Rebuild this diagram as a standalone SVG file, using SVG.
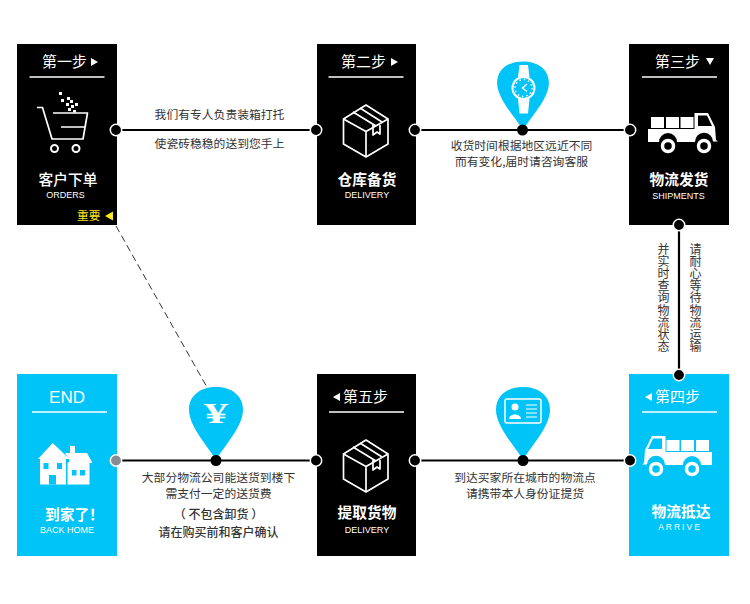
<svg xmlns="http://www.w3.org/2000/svg" width="750" height="604" viewBox="0 0 750 604">
<style>
text{font-family:"Noto Sans CJK SC","Liberation Sans",sans-serif;}
.step{font-size:15px;fill:#fff;}
.title{font-size:14.700px;fill:#fff;font-weight:700;text-anchor:middle;}
.en{font-family:"Liberation Sans",sans-serif;font-size:9px;fill:#fff;text-anchor:middle;}
.cap{font-size:11.800px;fill:#333;text-anchor:middle;}
.vert{font-size:12px;fill:#333;writing-mode:vertical-rl;text-orientation:upright;letter-spacing:.2px;}
.rule{stroke:#fff;stroke-width:1.500;fill:none;}
.ico{stroke:#fff;stroke-width:1.700;fill:none;stroke-linejoin:round;}
.blk{fill:#000;}.cy{fill:#00c3f8;}.w{fill:#fff;}
.dot{fill:#000;stroke:#fff;stroke-width:1.500;}
.wire{stroke:#000;stroke-width:2.200;fill:none;}
</style>
<defs>
<g id="box-ico" class="ico">
<path d="M366 105 L388 119 V144 L366 157 L343.500 144 V119 Z"/>
<path d="M343.500 119 L366 131.500 L388 119 M366 131.500 V157"/>
<path d="M353 112 L376 126 M360 108 L382 122"/>
<path d="M373 125 V135 L377 132 L380 134 V125"/>
</g>
<g id="truck">
<rect x="651" y="117" width="13" height="11" class="w"/><rect x="666" y="117" width="13" height="11" class="w"/><rect x="680.500" y="117" width="13" height="11" class="w"/>
<path class="w" d="M648 129 H694.500 V113 H708 L715 127 L716 140 L718 141.500 H713 A9 9 0 0 0 695 142 H677 A9 9 0 0 0 659 142 H648 Z"/>
<path fill="currentColor" d="M698 115.500 H707 L712 126 H698 Z"/>
<circle cx="668" cy="146" r="5.500" fill="none" stroke="#fff" stroke-width="3.500"/>
<circle cx="704" cy="146" r="5.500" fill="none" stroke="#fff" stroke-width="3.500"/>
</g>
<path id="pin" d="M0 0 C-6 -11 -27 -33 -27 -50 C-27 -65 -15 -73 0 -73 C15 -73 27 -65 27 -50 C27 -33 6 -11 0 0 Z"/>
</defs>

<g id="connectors">
<path d="M116 130 H630 M679 225 V375 M116 460.500 H630" class="wire"/>
<path d="M116 226 L208 389" stroke="#333" stroke-width="1" stroke-dasharray="7 4" fill="none"/>
</g>

<g id="step1">
<rect x="17" y="44" width="100" height="181" class="blk"/>
<text x="42" y="67" class="step">第一步</text><path d="M91 58 L98 62 L91 66 Z" class="w"/>
<path d="M29.500 77 H104.500" class="rule"/>
<path class="ico" stroke-width="2" d="M37 107.500 H42.500 L52 139 H83 L87.500 113 H53 M61 127 H85"/>
<circle cx="54.500" cy="148.500" r="3.500" fill="none" stroke="#fff" stroke-width="2"/><circle cx="76" cy="148.500" r="3.500" fill="none" stroke="#fff" stroke-width="2"/>
<g class="w"><rect x="59" y="92" width="3" height="3"/><rect x="61" y="99" width="3" height="3"/><rect x="67" y="97" width="3" height="3"/><rect x="70" y="100" width="3" height="3"/><rect x="66" y="103" width="3" height="3"/><rect x="75" y="103" width="3" height="3"/><rect x="71" y="105" width="3" height="3"/><rect x="68" y="108" width="3" height="3"/><rect x="73" y="110" width="3" height="2.500"/></g>
<text x="68" y="185" class="title" style="font-weight:500">客户下单</text>
<text x="65.500" y="197.500" class="en">ORDERS</text>
<text x="77" y="220" font-size="11.700" fill="#ffe81f">重要</text><path d="M113 211.500 V220.500 L105 216 Z" fill="#ffe81f"/>
</g>

<g id="step2">
<rect x="317" y="44" width="99" height="181" class="blk"/>
<text x="341" y="67" class="step">第二步</text><path d="M391 58 L398 62 L391 66 Z" class="w"/>
<path d="M328.500 77 H403.500" class="rule"/>
<use href="#box-ico"/>
<text x="367" y="185" class="title">仓库备货</text>
<text x="367" y="197.500" class="en">DELIVERY</text>
</g>

<g id="step3">
<rect x="629" y="44" width="100" height="181" class="blk"/>
<text x="655" y="67" class="step">第三步</text><path d="M706 58 H714 L710 65 Z" class="w"/>
<path d="M642 77 H717" class="rule"/>
<use href="#truck" style="color:#000"/>
<text x="679" y="185" class="title">物流发货</text>
<text x="678.500" y="198.500" class="en">SHIPMENTS</text>
</g>

<g id="step4">
<rect x="629" y="374" width="100" height="182" class="cy"/>
<path d="M652 393 V401 L645 397 Z" class="w"/><text x="655" y="402" class="step">第四步</text>
<path d="M642 412 H717" class="rule"/>
<use href="#truck" transform="matrix(-1 0 0 1 1360 323)" style="color:#00c3f8"/>
<text x="681" y="517" class="title">物流抵达</text>
<text x="680" y="529.500" class="en" style="letter-spacing:2px;font-size:8.500px">ARRIVE</text>
</g>

<g id="step5">
<rect x="317" y="374" width="99" height="182" class="blk"/>
<path d="M340 393 V401 L333 397 Z" class="w"/><text x="343" y="402" class="step">第五步</text>
<path d="M329 412 H404" class="rule"/>
<use href="#box-ico" transform="translate(0 335)"/>
<text x="367" y="518" class="title">提取货物</text>
<text x="367" y="532.500" class="en">DELIVERY</text>
</g>

<g id="end">
<rect x="17" y="374" width="100" height="182" class="cy"/>
<text x="67" y="403" style="font-family:'Liberation Sans',sans-serif;font-size:17px;fill:#fff;text-anchor:middle">END</text>
<path d="M32 412 H107" class="rule"/>
<path class="w" d="M38 459 L52.700 443 L69.500 459 H66 V484.500 H40 V459 Z"/>
<path class="w" d="M65 453 H70 V446 H75 V453 H87 L92.500 463 H89.500 V484.500 H67.500 V463 L70 461 Z"/>
<g class="cy"><rect x="43.500" y="463" width="5" height="6"/><rect x="57" y="463" width="5" height="6"/><rect x="49" y="475" width="7" height="9.500"/><rect x="72" y="470" width="4.500" height="5.500"/><rect x="80" y="470" width="5" height="5.500"/></g>
<text x="45" y="520" class="title" style="text-anchor:start">到家了！</text>
<text x="67" y="532.500" class="en">BACK HOME</text>
</g>

<g id="pin-watch">
<use href="#pin" transform="translate(523 130) scale(.96 .94)" class="cy"/>
<path d="M519.500 65 H528 L529.500 77 H518 Z M518 99 H529.500 L528 113.500 H519.500 Z" class="w"/>
<circle cx="523.500" cy="88" r="12" class="w"/><circle cx="523.500" cy="88" r="10" class="cy"/>
<circle cx="523.500" cy="88" r="8.500" fill="none" stroke="#fff" stroke-width="1.500" stroke-dasharray="1.500 2.950"/>
<path d="M527 84 L522.500 88 L527 91.500" stroke="#fff" stroke-width="1.500" fill="none"/>
</g>
<g id="pin-yen">
<use href="#pin" x="216" y="460" class="cy"/>
<text transform="translate(216 423) scale(1.600 1)" style="font-family:'Liberation Serif',serif;font-weight:700;font-size:30px;fill:#fff;text-anchor:middle">¥</text>
</g>
<g id="pin-id">
<use href="#pin" x="523" y="460" class="cy"/>
<rect x="505" y="399" width="36" height="24" rx="2" fill="none" stroke="#fff" stroke-width="1.500"/>
<circle cx="515" cy="407" r="3.500" class="w"/><path d="M509 419 C509 413 521 413 521 419 Z" class="w"/>
<path d="M526 405 H537 M526 409 H537 M526 413 H537 M526 417 H537" stroke="#fff" stroke-width="1.200"/>
</g>

<g id="dots">
<circle cx="116" cy="130" r="5.700" class="dot"/><circle cx="316" cy="130" r="5.700" class="dot"/><circle cx="415" cy="130" r="5.700" class="dot"/>
<circle cx="522.500" cy="130" r="5.500" fill="#000"/><circle cx="630" cy="130" r="5.700" class="dot"/>
<circle cx="679" cy="225" r="5.700" class="dot"/><circle cx="679" cy="375" r="5.700" class="dot"/>
<circle cx="630" cy="460.500" r="5.700" class="dot"/><circle cx="523" cy="460.500" r="5.500" fill="#000"/>
<circle cx="415" cy="460.500" r="5.700" class="dot"/><circle cx="316" cy="460.500" r="5.700" class="dot"/>
<circle cx="216" cy="460.500" r="5.500" fill="#000"/><circle cx="116" cy="460.500" r="5.700" fill="#8a8a94" stroke="#fff" stroke-width="1.500"/>
</g>

<g id="captions">
<text x="219.500" y="119" class="cap">我们有专人负责装箱打托</text>
<text x="219.500" y="148" class="cap">使瓷砖稳稳的送到您手上</text>
<text x="521.500" y="149.500" class="cap">收货时间根据地区远近不同</text>
<text x="521.500" y="165.500" class="cap">而有变化,届时请咨询客服</text>
<text x="218.500" y="482" class="cap">大部分物流公司能送货到楼下</text>
<text x="218.500" y="498" class="cap">需支付一定的送货费</text>
<text x="218.500" y="519" class="cap" style="font-weight:500;font-size:12px">（ 不包含卸货 ）</text>
<text x="218.500" y="537" class="cap" style="font-weight:500;font-size:12px">请在购买前和客户确认</text>
<text x="525" y="482" class="cap">到达买家所在城市的物流点</text>
<text x="525" y="498" class="cap">请携带本人身份证提货</text>
<text x="663.500" y="243" class="vert">并实时查询物流状态</text>
<text x="695.500" y="243" class="vert">请耐心等待物流运输</text>
</g>
</svg>
